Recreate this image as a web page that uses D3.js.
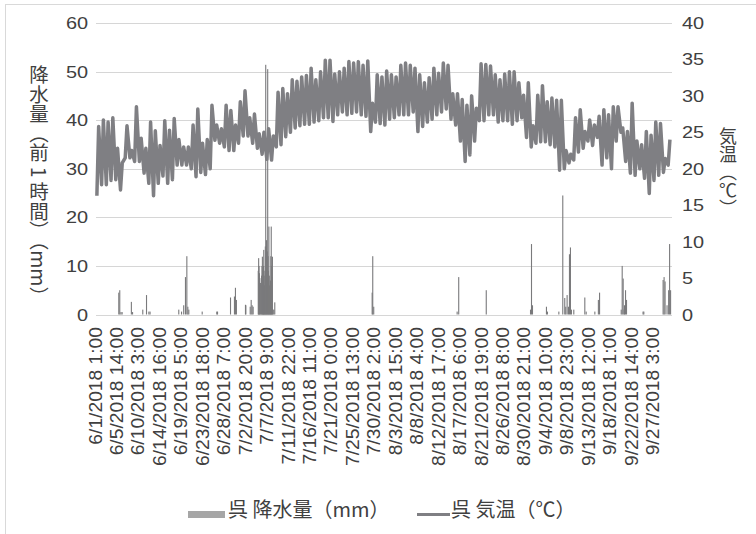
<!DOCTYPE html>
<html>
<head>
<meta charset="utf-8">
<script src="https://cdn.jsdelivr.net/npm/d3@7/dist/d3.min.js"></script>
<style>
  html, body { margin: 0; padding: 0; background: #fff; }
  svg { display: block; }
</style>
</head>
<body>
<svg id="chart" width="756" height="534"></svg>
<script>
// Category-axis labels (one every 109 hours)
const tickLabels = [
  "6/1/2018 1:00", "6/5/2018 14:00", "6/10/2018 3:00", "6/14/2018 16:00",
  "6/19/2018 5:00", "6/23/2018 18:00", "6/28/2018 7:00", "7/2/2018 20:00",
  "7/7/2018 9:00", "7/11/2018 22:00", "7/16/2018 11:00", "7/21/2018 0:00",
  "7/25/2018 13:00", "7/30/2018 2:00", "8/3/2018 15:00", "8/8/2018 4:00",
  "8/12/2018 17:00", "8/17/2018 6:00", "8/21/2018 19:00", "8/26/2018 8:00",
  "8/30/2018 21:00", "9/4/2018 10:00", "9/8/2018 23:00", "9/13/2018 12:00",
  "9/18/2018 1:00", "9/22/2018 14:00", "9/27/2018 3:00"
];

// Daily high / low temperature at Kure, 6/1 – 9/30 (°C)
const tempMax = [
  25.8, 26.7, 26.4, 27.0, 22.8, 20.8, 25.9, 22.5, 28.5, 24.2,
  22.8, 26.4, 25.2, 23.2, 26.6, 25.3, 26.9, 24.0, 23.0, 23.0,
  26.0, 28.2, 23.5, 24.0, 28.7, 26.0, 25.5, 28.7, 28.0, 26.0,
  29.2, 30.7, 27.0, 27.5, 24.8, 25.0, 25.5, 24.5, 30.5, 31.0,
  30.3, 32.2, 32.0, 32.6, 32.8, 33.8, 32.2, 33.3, 34.9, 34.9,
  33.0, 33.3, 33.8, 34.7, 34.5, 34.7, 34.2, 34.8, 29.0, 32.9,
  32.6, 33.4, 32.9, 32.6, 34.2, 34.5, 34.2, 33.8, 32.9, 31.8,
  32.5, 33.8, 33.1, 34.5, 34.2, 30.3, 30.3, 29.5, 28.7, 30.0,
  28.3, 34.4, 34.3, 34.1, 32.9, 32.2, 33.0, 33.3, 33.3, 31.8,
  30.1, 31.8, 25.9, 30.1, 31.4, 29.2, 29.7, 29.4, 29.4, 22.5,
  22.0, 27.0, 28.1, 25.1, 26.7, 26.0, 27.2, 28.1, 27.4, 28.5,
  28.5, 25.6, 25.1, 29.0, 23.8, 23.3, 25.1, 24.6, 26.4, 26.2,
  21.4, 24.0
];
const tempMin = [
  16.3, 17.8, 17.8, 18.4, 18.5, 17.1, 21.5, 21.5, 21.0, 21.0,
  19.4, 18.0, 16.3, 18.0, 19.0, 18.0, 18.5, 20.5, 20.5, 20.5,
  20.0, 18.9, 19.5, 19.2, 20.0, 23.9, 23.5, 23.0, 22.5, 22.5,
  23.5, 24.5, 24.5, 23.5, 22.8, 22.0, 21.3, 21.2, 23.0, 23.3,
  24.4, 25.0, 25.6, 25.9, 26.1, 26.1, 26.4, 26.6, 27.0, 27.0,
  26.5, 27.4, 27.8, 27.4, 27.6, 27.8, 27.4, 27.2, 25.1, 26.4,
  26.2, 26.0, 26.8, 27.0, 27.4, 27.4, 27.4, 27.8, 25.1, 25.8,
  26.4, 26.8, 27.4, 27.8, 28.2, 26.8, 26.0, 23.8, 21.0, 21.9,
  23.8, 26.6, 26.6, 27.4, 27.4, 26.4, 26.6, 26.6, 26.1, 26.6,
  27.0, 24.3, 23.0, 23.5, 23.7, 23.7, 23.3, 23.0, 19.8, 20.0,
  20.8, 21.2, 22.3, 22.8, 23.8, 23.2, 24.3, 20.5, 21.5, 20.0,
  23.8, 25.0, 21.0, 19.4, 19.1, 20.0, 18.7, 16.6, 18.4, 19.1,
  19.5, 20.5
];
const lowHour = 5;   // hour of the daily low
const highHour = 14; // hour of the daily high

// Hourly precipitation (mm, previous hour); hours not listed had none
const rainTime = [
  "6/5 18:00", "6/5 23:00", "6/6 5:00", "6/6 11:00", "6/8 10:00", "6/8 16:00",
  "6/10 20:00", "6/11 15:00", "6/12 3:00", "6/12 9:00", "6/18 11:00", "6/19 1:00",
  "6/19 12:00", "6/19 21:00", "6/20 4:00", "6/20 9:00", "6/20 14:00", "6/23 10:00",
  "6/26 12:00", "6/26 16:00", "6/29 10:00", "6/30 6:00", "6/30 11:00", "6/30 16:00",
  "7/2 14:00", "7/2 16:00", "7/3 14:00", "7/3 19:00", "7/4 0:00", "7/4 5:00",
  "7/5 7:00", "7/5 9:00", "7/5 11:00", "7/5 13:00", "7/5 15:00", "7/5 18:00",
  "7/5 21:00", "7/6 0:00", "7/6 2:00", "7/6 4:00", "7/6 6:00", "7/6 8:00",
  "7/6 10:00", "7/6 11:00", "7/6 13:00", "7/6 15:00", "7/6 17:00", "7/6 19:00",
  "7/6 21:00", "7/6 23:00", "7/7 1:00", "7/7 3:00", "7/7 5:00", "7/7 7:00",
  "7/7 9:00", "7/7 11:00", "7/7 13:00", "7/7 15:00", "7/7 17:00", "7/7 19:00",
  "7/7 21:00", "7/7 23:00", "7/8 1:00", "7/8 3:00", "7/8 5:00", "7/8 7:00",
  "7/8 10:00", "7/8 14:00", "7/8 19:00",
  "7/29 10:00", "7/29 13:00", "7/29 18:00", "8/16 10:00", "8/16 18:00", "8/22 14:00",
  "8/31 23:00", "9/1 4:00", "9/1 9:00", "9/4 8:00", "9/4 13:00", "9/6 23:00",
  "9/7 19:00", "9/8 5:00", "9/8 10:00", "9/8 17:00", "9/9 0:00", "9/9 5:00",
  "9/9 10:00", "9/9 15:00", "9/10 3:00", "9/12 11:00", "9/12 18:00", "9/14 14:00",
  "9/15 8:00", "9/15 14:00", "9/20 4:00", "9/20 9:00", "9/20 14:00", "9/20 19:00",
  "9/20 21:00", "9/21 2:00", "9/21 7:00", "9/24 19:00", "9/24 23:00", "9/29 1:00",
  "9/29 6:00", "9/29 11:00", "9/29 21:00", "9/30 5:00", "9/30 10:00", "9/30 15:00"
];
const rainMM = [
  4.5, 5.0, 0.5, 0.5, 2.6, 0.5,
  1.0, 4.0, 0.6, 0.6, 1.0, 0.6,
  1.9, 7.7, 12.0, 1.6, 1.0, 0.6,
  0.6, 0.6, 3.5, 3.7, 5.5, 3.0,
  2.0, 1.9, 1.6, 3.0, 1.9, 1.6,
  9.0, 11.6, 10.0, 8.5, 7.5, 6.5,
  6.0, 8.0, 10.0, 11.9, 9.0, 7.0,
  10.0, 13.3, 8.0, 6.0, 9.0, 14.0,
  51.4, 12.0, 15.3, 10.0, 13.0, 50.5,
  12.0, 9.0, 18.1, 8.0, 6.0, 4.0,
  7.0, 12.0, 18.1, 10.0, 7.7, 11.9,
  1.0, 1.0, 2.5,
  4.5, 12.0, 1.6, 0.6, 7.7, 5.0,
  1.0, 14.5, 1.9, 1.6, 0.6, 0.6,
  24.5, 3.4, 1.6, 4.0, 1.6, 12.4,
  13.8, 1.0, 1.0, 3.5, 0.6, 0.6,
  3.0, 4.5, 1.0, 10.0, 7.4, 1.0,
  1.9, 5.0, 3.0, 0.6, 0.6, 7.1,
  7.7, 6.8, 1.9, 5.0, 14.5, 5.0
];

const rainTicks = [0, 10, 20, 30, 40, 50, 60];
const tempTicks = [0, 5, 10, 15, 20, 25, 30, 35, 40];
const seriesNames = ["呉 降水量（mm）", "呉 気温（℃）"];
const hourCount = 122 * 24;

// "M/D[/YYYY] H:00" -> hour slot (slot 0 is 6/1 1:00, 0:00 closes the previous day)
const monthStart = { 6: 0, 7: 30, 8: 61, 9: 92 };
function hourIndex(s) {
  const [datePart, timePart] = s.split(" ");
  const [m, d] = datePart.split("/").map(Number);
  const h = +timePart.split(":")[0];
  return (monthStart[m] + d - 1) * 24 + h - 1;
}

const W = 756, H = 534;
const plot = { left: 96, right: 672, top: 23, bottom: 314.5 };
const textColor = "#404040";
const gridColor = "#d6d6d6";
const lineColor = "#7f7f83";
const barColor = "#7a7a7c";
const stretch = 1.17; // horizontal widening of the Latin labels

const svg = d3.select("#chart");

// outer chart frame
svg.append("rect")
  .attr("x", 5.5).attr("y", 4.5)
  .attr("width", W + 10).attr("height", H + 10)
  .attr("fill", "none").attr("stroke", "#d9d9d9");

const x = d3.scaleBand()
  .domain(d3.range(hourCount))
  .range([plot.left, plot.right])
  .paddingInner(0).paddingOuter(0);
const yRain = d3.scaleLinear().domain([0, 60]).range([plot.bottom, plot.top]);
const yTemp = d3.scaleLinear().domain([0, 40]).range([plot.bottom, plot.top]);
const xc = i => x(i) + x.bandwidth() / 2;

// gridlines
svg.append("g").selectAll("line").data(rainTicks).join("line")
  .attr("x1", plot.left).attr("x2", plot.right)
  .attr("y1", d => Math.round(yRain(d)) + 0.5)
  .attr("y2", d => Math.round(yRain(d)) + 0.5)
  .attr("stroke", gridColor).attr("stroke-width", 1.2);

// left axis labels
svg.append("g").selectAll("text").data(rainTicks).join("text")
  .attr("transform", d => `translate(88,${yRain(d) + 6}) scale(${stretch},1)`)
  .attr("text-anchor", "end")
  .attr("font-family", "Liberation Sans, Arial, sans-serif")
  .attr("font-size", 17).attr("fill", textColor)
  .text(d => d);

// right axis labels
svg.append("g").selectAll("text").data(tempTicks).join("text")
  .attr("transform", d => `translate(682,${yTemp(d) + 6}) scale(${stretch},1)`)
  .attr("text-anchor", "start")
  .attr("font-family", "Liberation Sans, Arial, sans-serif")
  .attr("font-size", 17).attr("fill", textColor)
  .text(d => d);

// category labels, rotated
svg.append("g").selectAll("text").data(tickLabels).join("text")
  .attr("transform", d => `translate(${xc(hourIndex(d)) + 5.5},327) rotate(-90) scale(1.1,1)`)
  .attr("text-anchor", "end")
  .attr("font-family", "Liberation Sans, Arial, sans-serif")
  .attr("font-size", 17.5).attr("fill", textColor)
  .text(d => d);

// precipitation bars
const rain = rainTime.map((t, k) => ({ i: hourIndex(t), v: rainMM[k] }));
svg.append("g").selectAll("rect").data(rain).join("rect")
  .attr("x", d => x(d.i))
  .attr("width", Math.max(1.1, x.bandwidth()))
  .attr("y", d => yRain(d.v))
  .attr("height", d => yRain(0) - yRain(d.v))
  .attr("fill", barColor);

// temperature line: daily low and high in time order
const temp = [];
tempMin.forEach((lo, d) => {
  temp.push({ i: d * 24 + lowHour - 1, v: lo });
  temp.push({ i: d * 24 + highHour - 1, v: tempMax[d] });
});
svg.append("path").datum(temp)
  .attr("d", d3.line().x(d => xc(d.i)).y(d => yTemp(d.v)))
  .attr("fill", "none").attr("stroke", lineColor)
  .attr("stroke-width", 3.5).attr("stroke-linejoin", "round");

// axis titles (vertical writing)
svg.append("text")
  .attr("x", 39).attr("y", 65)
  .style("writing-mode", "vertical-rl")
  .style("text-orientation", "mixed")
  .attr("font-family", "Noto Sans CJK JP, sans-serif")
  .attr("font-size", 19.5).attr("fill", textColor)
  .text("降水量（前 1 時間）（mm）");

svg.append("text")
  .attr("x", 728).attr("y", 127)
  .style("writing-mode", "vertical-rl")
  .style("text-orientation", "mixed")
  .attr("font-family", "Noto Sans CJK JP, sans-serif")
  .attr("font-size", 18).attr("fill", textColor)
  .text("気温（℃）");

// legend
const legend = svg.append("g");
legend.append("rect")
  .attr("x", 188).attr("y", 511).attr("width", 37).attr("height", 7)
  .attr("fill", "#a6a6a6");
legend.append("text")
  .attr("x", 228).attr("y", 517)
  .attr("font-family", "Noto Sans CJK JP, sans-serif")
  .attr("font-size", 20).attr("fill", textColor)
  .text(seriesNames[0]);
legend.append("line")
  .attr("x1", 417).attr("x2", 450).attr("y1", 514.5).attr("y2", 514.5)
  .attr("stroke", lineColor).attr("stroke-width", 3);
legend.append("text")
  .attr("x", 451).attr("y", 517)
  .attr("font-family", "Noto Sans CJK JP, sans-serif")
  .attr("font-size", 20).attr("fill", textColor)
  .text(seriesNames[1]);
</script>
</body>
</html>
